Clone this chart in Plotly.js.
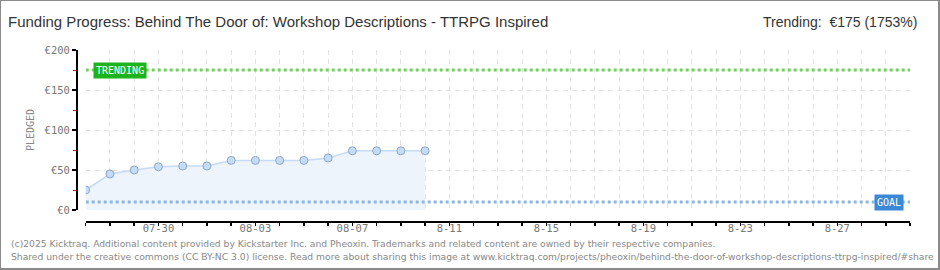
<!DOCTYPE html>
<html>
<head>
<meta charset="utf-8">
<script src="https://cdn.plot.ly/plotly-3.0.1.min.js"></script>
<style>
  html, body { margin: 0; padding: 0; background: #fff; }
  #wrap { position: relative; width: 940px; height: 270px; }
  #chart { width: 940px; height: 270px; }
  #frame { position: absolute; left: 0; top: 0; width: 940px; height: 270px; box-sizing: border-box;
           border-style: solid; border-color: #8a8a8a; border-width: 1px 2px 2px 1px; pointer-events: none; }
</style>
</head>
<body>
<div id="wrap"><div id="chart"></div><div id="frame"></div></div>
<script>
// ---- data ----
const dates = ["2025-07-27","2025-07-28","2025-07-29","2025-07-30","2025-07-31","2025-08-01","2025-08-02",
               "2025-08-03","2025-08-04","2025-08-05","2025-08-06","2025-08-07","2025-08-08","2025-08-09","2025-08-10"];
const pledged = [25, 45, 50, 54, 55, 55, 62, 62, 62, 62, 65, 74, 74, 74, 74];
const rangeStart = "2025-07-27";
const rangeEnd = "2025-08-30";
const goal = 10;
const trending = 175;
const xTickVals = ["2025-07-30","2025-08-03","2025-08-07","2025-08-11","2025-08-15","2025-08-19","2025-08-23","2025-08-27"];
const xTickText = ["07-30","08-03","08-07","8-11","8-15","8-19","8-23","8-27"];
const yTickVals = [0, 50, 100, 150, 200];
const yTickText = ["€0","€50","€100","€150","€200"];
const titleText = "Funding Progress: Behind The Door of: Workshop Descriptions - TTRPG Inspired";
const trendingText = "Trending:  €175 (1753%)";
const footer1 = "(c)2025 Kicktraq. Additional content provided by Kickstarter Inc. and Pheoxin. Trademarks and related content are owned by their respective companies.";
const footer2 = "Shared under the creative commons (CC BY-NC 3.0) license. Read more about sharing this image at www.kicktraq.com/projects/pheoxin/behind-the-door-of-workshop-descriptions-ttrpg-inspired/#share";

// ---- geometry helpers (pixel -> paper) ----
const L = 76, R = 30, T = 50, B = 49, W = 940, H = 270;
const pw = W - L - R, ph = H - T - B;
const px = v => (v - L) / pw;
const py = v => (H - B - v) / ph;

const pixFont = "DejaVu Sans Mono, monospace";
const headFont = "Liberation Sans, Arial, sans-serif";

const traces = [
  {
    x: dates, y: pledged, type: "scatter", mode: "lines+markers",
    fill: "tozeroy", fillcolor: "#edf4fc",
    line: { color: "#c3dbf3", width: 1.5 },
    marker: { size: 8, color: "#c4dcf6", line: { color: "#8fa7c6", width: 1 } },
    hoverinfo: "skip"
  },
  {
    x: [rangeStart, rangeEnd], y: [goal, goal], type: "scatter", mode: "lines",
    line: { color: "#8cb6e2", width: 3, dash: "dot" }, hoverinfo: "skip"
  },
  {
    x: [rangeStart, rangeEnd], y: [trending, trending], type: "scatter", mode: "lines",
    line: { color: "#6fd25e", width: 3, dash: "dot" }, hoverinfo: "skip"
  }
];

const layout = {
  width: W, height: H,
  margin: { l: L, r: R, t: T, b: B },
  paper_bgcolor: "#fff", plot_bgcolor: "#fff",
  showlegend: false,
  title: {
    text: titleText, xref: "container", yref: "container",
    x: 8 / W, xanchor: "left", y: 1 - 22 / H, yanchor: "middle",
    font: { family: headFont, size: 15, color: "#333" }
  },
  xaxis: {
    type: "date", range: [rangeStart, rangeEnd],
    domain: [px(85.7), 1], anchor: "free", position: 0,
    showline: true, linecolor: "#000", linewidth: 1.5,
    tickmode: "array", tickvals: xTickVals, ticktext: xTickText,
    ticks: "outside", ticklen: 3, tickcolor: "#000", tickwidth: 1.5,
    ticklabelstandoff: -6,
    tickfont: { family: pixFont, size: 10.5, color: "#777" },
    showgrid: true, gridcolor: "#e3e3e3", griddash: "5px,4px", gridwidth: 1,
    minor: { dtick: 86400000, tick0: rangeStart, ticks: "outside", ticklen: 3, tickcolor: "#000", tickwidth: 1.5,
             showgrid: true, gridcolor: "#e3e3e3", griddash: "5px,4px", gridwidth: 1 },
    zeroline: false, fixedrange: true
  },
  yaxis: {
    range: [0, 200], domain: [py(210), 1], anchor: "free", position: 0,
    showline: true, linecolor: "#000", linewidth: 1.5,
    tickmode: "array", tickvals: yTickVals, ticktext: yTickText,
    ticks: "outside", ticklen: 4, tickcolor: "#000", tickwidth: 1.5,
    tickfont: { family: pixFont, size: 10.5, color: "#777" },
    showgrid: true, gridcolor: "#e3e3e3", griddash: "5px,4px", gridwidth: 1,
    minor: { dtick: 25, tick0: 0, ticks: "outside", ticklen: 3, tickcolor: "#ff0000", tickwidth: 1, showgrid: false },
    zeroline: false, fixedrange: true,
    title: { text: "PLEDGED", standoff: 6, font: { family: pixFont, size: 10, color: "#888" } }
  },
  annotations: [
    { text: trendingText, xref: "paper", yref: "paper", x: px(919), y: py(22), xanchor: "right", yanchor: "middle",
      showarrow: false, font: { family: headFont, size: 14, color: "#333" } },
    { text: footer1, xref: "paper", yref: "paper", x: px(9), y: py(243), xanchor: "left", yanchor: "middle",
      showarrow: false, font: { family: "DejaVu Sans, sans-serif", size: 9.2, color: "#888" } },
    { text: footer2, xref: "paper", yref: "paper", x: px(9), y: py(256), xanchor: "left", yanchor: "middle",
      showarrow: false, font: { family: "DejaVu Sans, sans-serif", size: 9.2, color: "#888" } },
    { text: "TRENDING", xref: "paper", yref: "y", x: px(93), y: trending, xanchor: "left", yanchor: "middle",
      showarrow: false, bgcolor: "#1cb41c", borderpad: 2, font: { family: pixFont, size: 10, color: "#fff" } },
    { text: "GOAL", xref: "paper", yref: "y", x: px(904), y: goal, xanchor: "right", yanchor: "middle",
      showarrow: false, bgcolor: "#3b89d6", borderpad: 2, font: { family: pixFont, size: 10, color: "#fff" } }
  ]
};

Plotly.newPlot("chart", traces, layout, { staticPlot: true, displayModeBar: false });
</script>
</body>
</html>
